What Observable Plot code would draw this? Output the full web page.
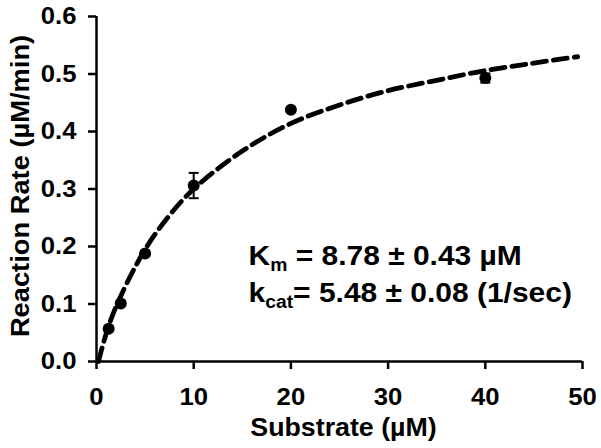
<!DOCTYPE html>
<html>
<head>
<meta charset="utf-8">
<script src="https://cdn.jsdelivr.net/npm/d3@7"></script>
<script src="https://cdn.jsdelivr.net/npm/@observablehq/plot@0.6"></script>
<style>
  html, body { margin: 0; padding: 0; background: #fff; }
</style>
</head>
<body>
<div id="chart"></div>
<script>
// Measured data (substrate µM, rate µM/min, error)
const substrate = [1.25, 2.5, 5, 10, 20, 40];
const rate = [0.057, 0.101, 0.188, 0.306, 0.438, 0.493];
const rateErr = [0.004, 0.004, 0.004, 0.022, 0.004, 0.008];

// Fitted curve
const curveX = [0.2, 1.25, 2.5, 5, 7.5, 10, 15, 20, 25, 30, 35, 40, 45, 49.5];
const curveY = [0.0, 0.062, 0.114, 0.195, 0.254, 0.300, 0.366, 0.414, 0.446, 0.471, 0.489, 0.506, 0.519, 0.530];

const xTicks = [0, 10, 20, 30, 40, 50];
const yTicks = [0, 0.1, 0.2, 0.3, 0.4, 0.5, 0.6];
const xTitle = "Substrate (µM)";
const yTitle = "Reaction Rate (µM/min)";

// Annotation lines: main symbol, subscript, rest
const annMain = ["K", "k"];
const annSub = ["m", "cat"];
const annRest = [" = 8.78 ± 0.43 µM", "= 5.48 ± 0.08 (1/sec)"];
const annX = 15.7;
const annY = [0.167, 0.103];

const points = substrate.map((x, i) => ({x, y: rate[i], lo: rate[i] - rateErr[i], hi: rate[i] + rateErr[i]}));
const curve = curveX.map((x, i) => ({x, y: curveY[i]}));

const capSymbol = {
  draw(context, size) {
    const r = Math.sqrt(size / Math.PI);
    context.moveTo(-r, 0);
    context.lineTo(r, 0);
  }
};

const FONT = "'Liberation Sans', Arial, Helvetica, sans-serif";
const STRETCH = 1.07;

const chart = Plot.plot({
  width: 601,
  height: 448,
  marginLeft: 96,
  marginRight: 19,
  marginTop: 16,
  marginBottom: 87,
  style: {fontFamily: FONT, fontWeight: "bold", color: "#000", background: "#fff", overflow: "visible"},
  x: {domain: [0, 50]},
  y: {domain: [0, 0.6]},
  marks: [
    Plot.axisX({ticks: xTicks, tickSize: 8, tickPadding: 18, fontSize: 24, fontWeight: "bold", strokeWidth: 2.5, label: null}),
    Plot.axisY({ticks: yTicks, tickFormat: d3.format(".1f"), tickSize: 8, tickPadding: 12, fontSize: 24, fontWeight: "bold", strokeWidth: 2.5, label: null}),
    Plot.ruleY([0], {stroke: "#000", strokeWidth: 2.5}),
    Plot.ruleX([0], {stroke: "#000", strokeWidth: 2.5}),
    Plot.line(curve, {x: "x", y: "y", curve: "catmull-rom", stroke: "#000", strokeWidth: 4.8, strokeDasharray: "14,7"}),
    Plot.ruleX(points, {x: "x", y1: "lo", y2: "hi", stroke: "#000", strokeWidth: 2}),
    Plot.dot(points, {x: "x", y: "lo", symbol: capSymbol, r: 5, stroke: "#000", strokeWidth: 2, fill: "none"}),
    Plot.dot(points, {x: "x", y: "hi", symbol: capSymbol, r: 5, stroke: "#000", strokeWidth: 2, fill: "none"}),
    Plot.dot(points, {x: "x", y: "y", r: 6, fill: "#000", stroke: "none"}),
    Plot.text([xTitle], {text: d => d, frameAnchor: "bottom", textAnchor: "middle", lineAnchor: "middle", dx: 4, dy: 66, fontSize: 25, fontWeight: "bold", fill: "#000"}),
    Plot.text([yTitle], {text: d => d, frameAnchor: "left", textAnchor: "middle", lineAnchor: "middle", rotate: -90, dx: -76, dy: -3, fontSize: 25.5, fontWeight: "bold", fill: "#000"})
  ]
});

document.getElementById("chart").appendChild(chart);

// Annotation with subscripts, positioned via the plot's scales
const sx = chart.scale("x"), sy = chart.scale("y");
const svg = d3.select(chart);
annMain.forEach((m, i) => {
  const t = svg.append("text")
    .attr("x", sx.apply(annX))
    .attr("y", sy.apply(annY[i]))
    .attr("text-anchor", "start")
    .attr("font-family", FONT)
    .attr("font-weight", "bold")
    .attr("font-size", 28)
    .attr("fill", "#000");
  t.append("tspan").text(m);
  t.append("tspan").attr("font-size", 18).attr("dy", 6).text(annSub[i]);
  t.append("tspan").attr("dy", -6).text(annRest[i]);
});

// Slightly widen all glyphs to match the reference's wider lettering
chart.querySelectorAll("text").forEach(t => {
  const len = t.getComputedTextLength();
  if (len > 0) {
    t.setAttribute("textLength", (len * STRETCH).toFixed(2));
    t.setAttribute("lengthAdjust", "spacingAndGlyphs");
  }
});
</script>
</body>
</html>
